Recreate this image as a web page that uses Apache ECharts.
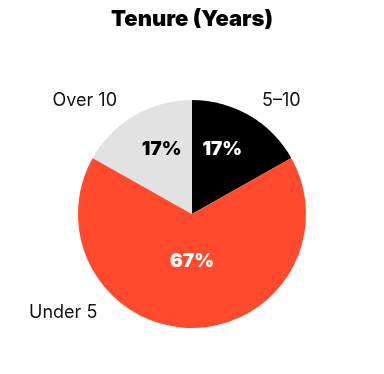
<!DOCTYPE html>
<html><head><meta charset="utf-8">
<script src="https://cdn.jsdelivr.net/npm/echarts@6/dist/echarts.min.js"></script>
<style>html,body{margin:0;padding:0;background:#fff}#c{width:384px;height:374px}</style>
</head><body><div id="c"></div>
<script>
const categories = ['5–10', 'Under 5', 'Over 10'];
const values = [17, 67, 17];
const pctLabels = ['17%', '67%', '17%'];
const colors = ['#000000', '#FF4A2D', '#E1E2E1'];
const pctColors = ['#ffffff', '#ffffff', '#000000'];
const outerPos = [[262, 101, 'left'], [29, 313, 'left'], [117, 101, 'right']];

const chart = echarts.init(document.getElementById('c'));
const data = categories.map((c, i) => ({
  name: c, value: values[i],
  itemStyle: { color: colors[i] },
  label: { color: pctColors[i], formatter: pctLabels[i] }
}));
chart.setOption({
  animation: false,
  title: { text: 'Tenure (Years)', left: 'center', top: 3,
    textStyle: { fontFamily: 'Inter', fontWeight: 900, fontSize: 22, color: '#000' } },
  series: [{
    type: 'pie', center: [192, 214], radius: [0, 114], startAngle: 90, clockwise: true,
    data: data, silent: true,
    label: { show: true, position: 'inside', fontFamily: 'Inter', fontWeight: 900, fontSize: 19 },
    labelLine: { show: false },
    labelLayout: { dy: -13 }
  }, {
    type: 'pie', center: [192, 214], radius: [0, 114], startAngle: 90, clockwise: true, silent: true,
    data: categories.map((c, i) => ({ name: c, value: values[i] })),
    itemStyle: { color: 'transparent' },
    label: { show: true, position: 'outside', formatter: '{b}', fontFamily: 'Inter', fontSize: 18, color: '#111' },
    labelLine: { show: false },
    labelLayout: p => ({ x: outerPos[p.dataIndex][0], y: outerPos[p.dataIndex][1], align: outerPos[p.dataIndex][2], verticalAlign: 'middle' })
  }]
});
</script></body></html>
